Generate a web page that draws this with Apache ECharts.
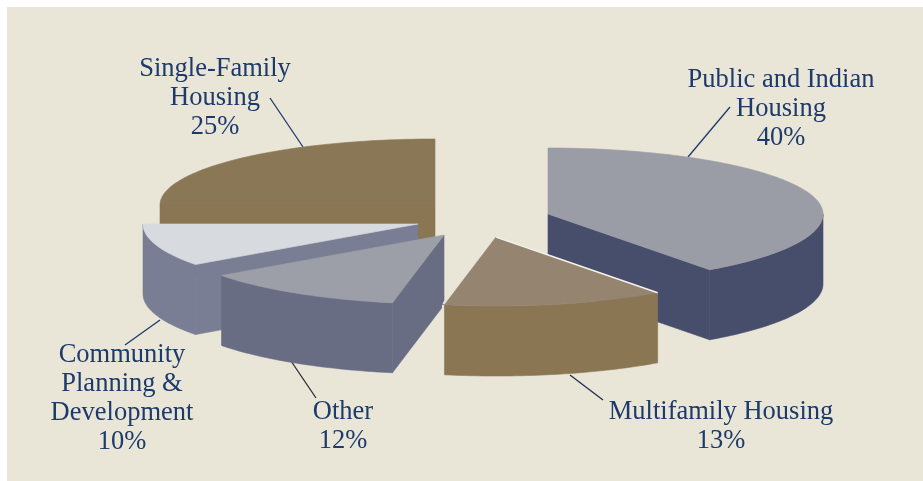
<!DOCTYPE html>
<html><head><meta charset="utf-8">
<style>html,body{margin:0;padding:0;background:#fff}#c{width:923px;height:481px}</style>
<script src="https://cdn.jsdelivr.net/npm/echarts@6/dist/echarts.min.js"></script>
</head><body><div id="c"></div>
<script>
// ---- data
const categories = ['Public and Indian Housing','Multifamily Housing','Other','Community Planning & Development','Single-Family Housing'];
const values = [40,13,12,10,25];
const labelLines = [
  ['Public and Indian','Housing'],
  ['Multifamily Housing'],
  ['Other'],
  ['Community','Planning &','Development'],
  ['Single-Family','Housing']
];
// ---- layout & style
const RX=275, RY_BACK=66, RY_FRONT=69, DEPTH=70;
const apexes=[[548,214],[496,237],[444,235],[418,224],[435,205]];
const drawRank=[3,4,2,1,0];
const topColors=['#9a9ca6','#958570','#9d9fa8','#d7dade','#8a7755'];
const wallColors=['#474e6b','#8a7653','#696d84','#797e95','#8a7653'];
const labelPos=[[781,80],[721,412],[343,412],[122,355],[215,69]];
const leaders=[[[730,107],[688,157]],[[570,375],[603,400]],[[291,361],[316,398]],[[125,345],[160,320]],[[270,98],[303,147]]];
const leaderColors=['#1c3a6b','#1f2f4d','#2a2a33','#1c3a6b','#1c3a6b'];
const BG='#e9e5d7', TEXT='#1c3a6b', FONT='"Liberation Serif","DejaVu Serif",serif', SIZE=26.5, LEAD=29;

const total=values.reduce((a,b)=>a+b,0);
const starts=[];values.reduce((acc,v,i)=>{starts[i]=acc;return acc+v;},0);
const toRad=v=>v/total*2*Math.PI;
function rim(ap,a,dy){const c=Math.cos(a);return [ap[0]+RX*Math.sin(a),ap[1]-(c>=0?RY_BACK:RY_FRONT)*c+(dy||0)];}
function arcPts(ap,a0,a1,dy){const n=Math.max(2,Math.ceil((a1-a0)/0.02));const p=[];for(let k=0;k<=n;k++)p.push(rim(ap,a0+(a1-a0)*k/n,dy));return p;}
function poly(points,fill,z2){return{type:'polygon',shape:{points},z2,silent:true,style:{fill,stroke:fill,lineWidth:0.6}};}
function seg(p,q,stroke,lineWidth,z2){return{type:'line',silent:true,z2,shape:{x1:p[0],y1:p[1],x2:q[0],y2:q[1]},style:{stroke,lineWidth}};}

function renderItem(params,api){
  const i=params.dataIndex, ap=apexes[i], v=api.value(0);
  const a0=toRad(starts[i]), a1=a0+toRad(v), z=(drawRank[i]+1)*10, kids=[];
  const wall=wallColors[i], top=topColors[i];
  const below=p=>[p[0],p[1]+DEPTH];
  if(Math.sin(a0)<-1e-6){const r=rim(ap,a0);kids.push(poly([ap,r,below(r),below(ap)],wall,z));}
  if(Math.sin(a1)>1e-6){const r=rim(ap,a1);kids.push(poly([ap,r,below(r),below(ap)],wall,z));}
  const f0=Math.max(a0,Math.PI/2), f1=Math.min(a1,3*Math.PI/2);
  if(f1>f0){const t=arcPts(ap,f0,f1,0), b=arcPts(ap,f0,f1,DEPTH).reverse();kids.push(poly(t.concat(b),wall,z+1));}
  kids.push(poly([ap].concat(arcPts(ap,a0,a1,0)),top,z+2));
  if(i===1){
    const r0=rim(ap,a0), r1=rim(ap,a1);
    kids.push(seg(ap,r0,'#f4f2ec',1.5,z+3));
    kids.push(seg(ap,r1,BG,5,z-1));
    kids.push(seg(r1,below(r1),BG,5,z-1));
  }
  const L=leaders[i];
  kids.push(seg(L[0],L[1],leaderColors[i],1.3,5));
  labelLines[i].concat([v+'%']).forEach((s,k)=>{
    kids.push({type:'text',silent:true,z2:100,x:labelPos[i][0],y:labelPos[i][1]+k*LEAD,style:{text:s,fill:TEXT,font:SIZE+'px '+FONT,align:'center',verticalAlign:'middle'}});
  });
  return {type:'group',children:kids};
}
const chart=echarts.init(document.getElementById('c'),null,{renderer:'canvas'});
chart.setOption({
  animation:false,
  backgroundColor:'#ffffff',
  graphic:[{type:'rect',z:-10,silent:true,shape:{x:7,y:7,width:916,height:474},style:{fill:BG}}],
  series:[{type:'custom',coordinateSystem:'none',renderItem,
    data:categories.map((n,i)=>({name:n,value:[values[i]]}))}]
});
</script></body></html>
